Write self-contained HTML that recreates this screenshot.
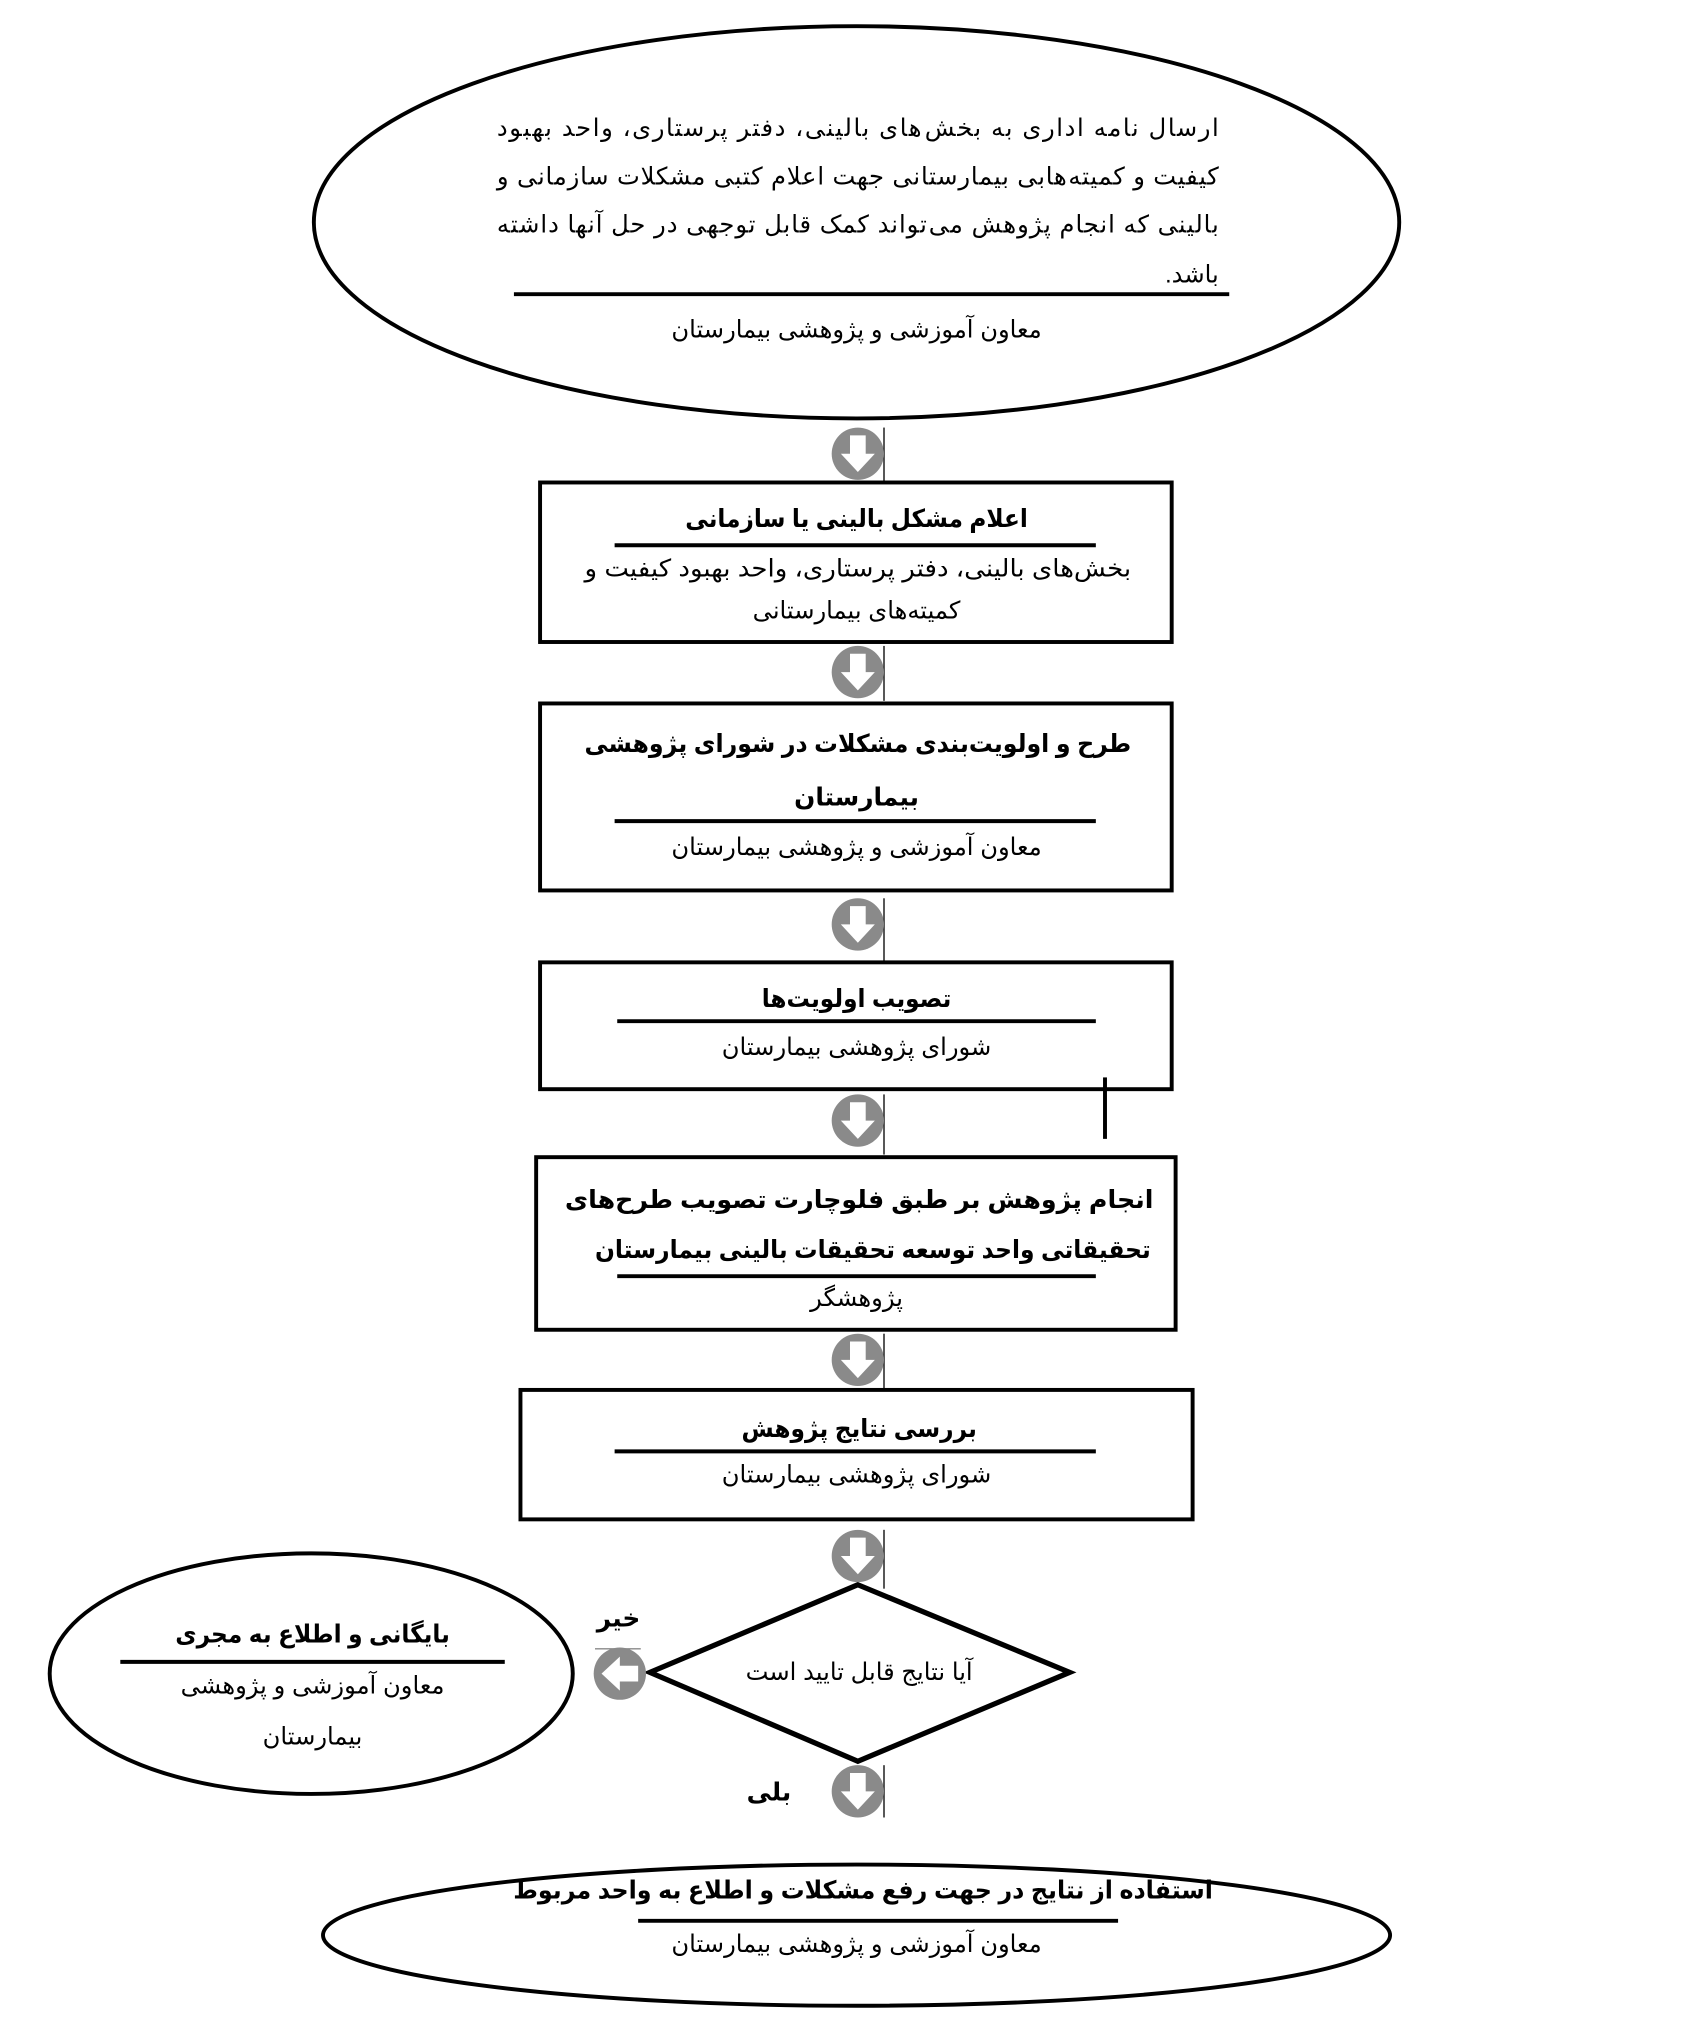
<!DOCTYPE html>
<html><head><meta charset="utf-8"><style>
html,body{margin:0;padding:0;background:#fff;width:1700px;height:2028px;overflow:hidden}
svg{display:block}
text{font-family:"Liberation Sans","DejaVu Sans",sans-serif;font-size:18.5px;fill:#000}
.b{font-weight:bold;font-size:19px}
</style></head><body>
<svg width="1700" height="2028" viewBox="0 0 1300 1551" preserveAspectRatio="none" xmlns="http://www.w3.org/2000/svg">
<defs>
<g id="ad"><circle r="20" fill="#8a8a8a"/><path d="M-6,-14 H6 V0 H13 L0,14 L-13,0 H-6 Z" fill="#fff"/></g>
<g id="al"><circle r="20" fill="#8a8a8a"/><path d="M14,-6 V6 H0 V13 L-14,0 L0,-13 V-6 Z" fill="#fff"/></g>
</defs>
<g stroke="#000" stroke-width="3" fill="none">
<ellipse cx="655" cy="170" rx="415" ry="150"/>
<rect x="413" y="369" width="483" height="122"/>
<rect x="413" y="538" width="483" height="143"/>
<rect x="413" y="736" width="483" height="97"/>
<rect x="410" y="885" width="489" height="132"/>
<rect x="398" y="1063" width="514" height="99"/>
<polygon points="656,1212 818,1279 656,1347 497,1279" stroke-width="4"/>
<ellipse cx="238" cy="1280" rx="200" ry="92"/>
<ellipse cx="655" cy="1480" rx="408" ry="54"/>
<line x1="393" y1="225" x2="940" y2="225"/>
<line x1="470" y1="417" x2="838" y2="417"/>
<line x1="470" y1="628" x2="838" y2="628"/>
<line x1="472" y1="781" x2="838" y2="781"/>
<line x1="472" y1="976" x2="838" y2="976"/>
<line x1="470" y1="1110" x2="838" y2="1110"/>
<line x1="92" y1="1271" x2="386" y2="1271"/>
<line x1="488" y1="1469" x2="855" y2="1469"/>
<line x1="845" y1="824" x2="845" y2="871"/>
</g>
<g stroke="#000" stroke-width="1">
<line x1="676" y1="327" x2="676" y2="368"/><line x1="676" y1="494" x2="676" y2="536"/>
<line x1="676" y1="687" x2="676" y2="735"/><line x1="676" y1="837" x2="676" y2="883"/>
<line x1="676" y1="1020" x2="676" y2="1062"/><line x1="676" y1="1170" x2="676" y2="1215"/>
<line x1="676" y1="1350" x2="676" y2="1390"/><line x1="455" y1="1261" x2="490" y2="1261" stroke="#888"/>
</g>
<use href="#ad" x="656" y="347"/><use href="#ad" x="656" y="514"/><use href="#ad" x="656" y="707"/>
<use href="#ad" x="656" y="857"/><use href="#ad" x="656" y="1040"/><use href="#ad" x="656" y="1190"/>
<use href="#ad" x="656" y="1370"/><use href="#al" x="474" y="1280"/>
<g direction="rtl">
<text x="932" y="104" text-anchor="start" textLength="552" lengthAdjust="spacing">ارسال نامه اداری به بخش‌های بالینی، دفتر پرستاری، واحد بهبود</text>
<text x="932" y="141" text-anchor="start" textLength="552" lengthAdjust="spacing">کیفیت و کمیته‌هابی بیمارستانی جهت اعلام کتبی مشکلات سازمانی و</text>
<text x="932" y="178" text-anchor="start" textLength="552" lengthAdjust="spacing">بالینی که انجام پژوهش می‌تواند کمک قابل توجهی در حل آنها داشته</text>
<text x="932" y="216" text-anchor="start">باشد.</text>
<text x="655" y="258" text-anchor="middle">معاون آموزشی و پژوهشی بیمارستان</text>
<text class="b" x="655" y="403" text-anchor="middle" textLength="262" lengthAdjust="spacingAndGlyphs">اعلام مشکل بالینی یا سازمانی</text>
<text x="865" y="441" text-anchor="start" textLength="418" lengthAdjust="spacingAndGlyphs">بخش‌های بالینی، دفتر پرستاری، واحد بهبود کیفیت و</text>
<text x="655" y="473" text-anchor="middle">کمیته‌های بیمارستانی</text>
<text class="b" x="865" y="575" text-anchor="start" textLength="418" lengthAdjust="spacingAndGlyphs">طرح و اولویت‌بندی مشکلات در شورای پژوهشی</text>
<text class="b" x="655" y="616" text-anchor="middle">بیمارستان</text>
<text x="655" y="654" text-anchor="middle">معاون آموزشی و پژوهشی بیمارستان</text>
<text class="b" x="655" y="770" text-anchor="middle" textLength="145" lengthAdjust="spacingAndGlyphs">تصویب اولویت‌ها</text>
<text x="655" y="807" text-anchor="middle">شورای پژوهشی بیمارستان</text>
<text class="b" x="882" y="924" text-anchor="start" textLength="450" lengthAdjust="spacingAndGlyphs">انجام پژوهش بر طبق فلوچارت تصویب طرح‌های</text>
<text class="b" x="880" y="962" text-anchor="start" textLength="425" lengthAdjust="spacingAndGlyphs">تحقیقاتی واحد توسعه تحقیقات بالینی بیمارستان</text>
<text x="655" y="999" text-anchor="middle">پژوهشگر</text>
<text class="b" x="657" y="1099" text-anchor="middle" textLength="180" lengthAdjust="spacingAndGlyphs">بررسی نتایج پژوهش</text>
<text x="655" y="1134" text-anchor="middle">شورای پژوهشی بیمارستان</text>
<text x="657" y="1285" text-anchor="middle">آیا نتایج قابل تایید است</text>
<text class="b" x="473" y="1244" text-anchor="middle">خیر</text>
<text class="b" x="588" y="1377" text-anchor="middle">بلی</text>
<text class="b" x="239" y="1256" text-anchor="middle" textLength="210" lengthAdjust="spacingAndGlyphs">بایگانی و اطلاع به مجری</text>
<text x="239" y="1295" text-anchor="middle">معاون آموزشی و پژوهشی</text>
<text x="239" y="1334" text-anchor="middle">بیمارستان</text>
<text class="b" x="660" y="1452" text-anchor="middle" textLength="535" lengthAdjust="spacingAndGlyphs">استفاده از نتایج در جهت رفع مشکلات و اطلاع به واحد مربوط</text>
<text x="655" y="1493" text-anchor="middle">معاون آموزشی و پژوهشی بیمارستان</text>
</g>
</svg>
</body></html>
